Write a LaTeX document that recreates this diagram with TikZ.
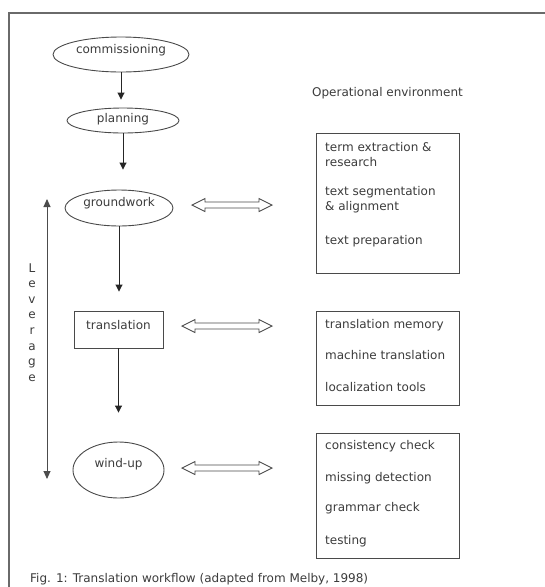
\documentclass[tikz,border=0pt]{standalone}
\usepackage{fontspec}
\setmainfont{DejaVu Sans}
\usetikzlibrary{arrows.meta,shapes.geometric}
\definecolor{ink}{HTML}{3C3C3C}
\definecolor{linec}{HTML}{4A4A4A}
\definecolor{framec}{HTML}{6A6A6A}
\tikzset{
  txt/.style={font=\fontsize{12}{14}\selectfont, text=ink, inner sep=0pt},
  ell/.style={draw=linec, line width=0.9pt, ellipse, inner sep=0pt},
  stepbox/.style={draw=linec, line width=0.9pt, rectangle, inner sep=0pt},
  envbox/.style={draw=linec, line width=1pt, rectangle, inner sep=0pt, minimum width=143, anchor=north west},
  flow/.style={draw=black!85, line width=0.9pt, -{Triangle[length=7pt,width=7pt]}},
  lev/.style={draw=black!70, line width=0.9pt, {Triangle[length=8pt,width=7pt]}-{Triangle[length=8pt,width=7pt]}},
  dbl/.style={draw=linec, line width=0.9pt, line join=miter},
  frame/.style={draw=framec, line width=1.6pt},
  item/.style={txt, anchor=west}
}
\newcommand{\dblarrow}[3]{%
  \draw[dbl] (#1,#3) -- ({#1+13},{#3-6.5}) -- ({#1+13},{#3-3}) -- ({#2-13},{#3-3}) -- ({#2-13},{#3-6.5}) -- (#2,#3) -- ({#2-13},{#3+6.5}) -- ({#2-13},{#3+3}) -- ({#1+13},{#3+3}) -- ({#1+13},{#3+6.5}) -- cycle;}
\begin{document}
\begin{tikzpicture}[x=1pt,y=-1pt]
\useasboundingbox (0,0) rectangle (545,587);
\fill[white] (0,0) rectangle (545,587);
% frame
\draw[frame] (9,600) -- (9,13) -- (560,13);

% workflow nodes
\node[ell, minimum width=136, minimum height=35,
  label={[txt, yshift=4]center:commissioning}] (comm) at (121,54.5) {};
\node[ell, minimum width=112, minimum height=25,
  label={[txt, yshift=1]center:planning}] (plan) at (123,120.5) {};
\node[ell, minimum width=108, minimum height=36,
  label={[txt, yshift=5]center:groundwork}] (ground) at (119,208) {};
\node[stepbox, minimum width=89, minimum height=37,
  label={[txt, yshift=4.5]center:translation}] (trans) at (118.5,329.5) {};
\node[ell, minimum width=91, minimum height=56,
  label={[txt, yshift=6]center:wind-up}] (wind) at (118.5,470) {};

% flow arrows
\draw[flow, shorten >=8pt] (comm.south) -- (comm.south |- plan.north);
\draw[flow, shorten >=20pt] (plan.south) -- (plan.south |- ground.north);
\draw[flow, shorten >=19pt] (ground.south) -- (ground.south |- trans.north);
\draw[flow, shorten >=29pt] (trans.south) -- (trans.south |- wind.north);

% leverage
\coordinate (levtop) at (47,199);
\coordinate (levbot) at (47,479);
\draw[lev] (levtop) -- (levbot);
\node[txt, align=center, font=\fontsize{12}{15.6}\selectfont] (levtxt) at (32,322.5)
  {L\\e\\v\\e\\r\\a\\g\\e};

% operational environment
\node[txt] (openv) at (387.5,93) {Operational environment};

% environment boxes
\node[envbox, minimum height=140] (box1) at (316,133) {};
\node[item] (t11) at (325,147) {term extraction \&};
\node[item] (t12) at (325,162) {research};
\node[item] (t13) at (325,192) {text segmentation};
\node[item] (t14) at (325,207) {\& alignment};
\node[item] (t15) at (325,241) {text preparation};

\node[envbox, minimum height=94] (box2) at (316,311) {};
\node[item] (t21) at (325,325) {translation memory};
\node[item] (t22) at (325,355) {machine translation};
\node[item] (t23) at (325,387) {localization tools};

\node[envbox, minimum height=125] (box3) at (316,433) {};
\node[item] (t31) at (325,446) {consistency check};
\node[item] (t32) at (325,478) {missing detection};
\node[item] (t33) at (325,508) {grammar check};
\node[item] (t34) at (325,541) {testing};

% double arrows
\dblarrow{192}{272}{205}
\dblarrow{182}{272}{326}
\dblarrow{182}{272}{468}

% caption
\node[txt, anchor=west] (cap) at (30,579) {Fig. 1: Translation workflow (adapted from Melby, 1998)};
\end{tikzpicture}
\end{document}
